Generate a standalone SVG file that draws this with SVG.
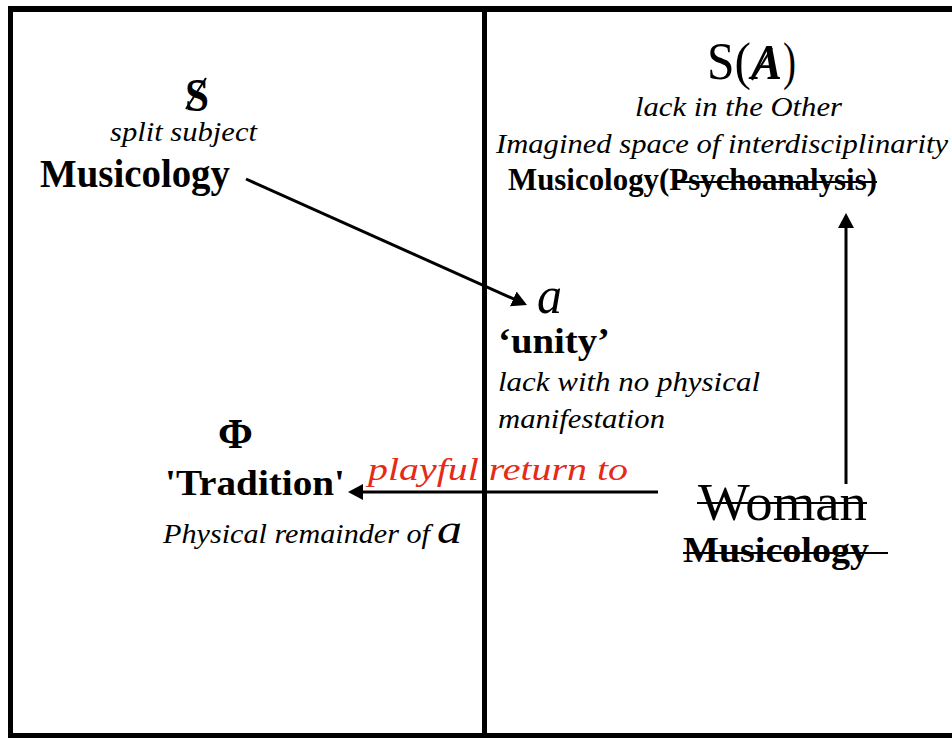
<svg xmlns="http://www.w3.org/2000/svg" width="952" height="738" viewBox="0 0 952 738">
<style>
.t{font-family:"Liberation Serif","Times New Roman",serif;fill:#000}
.b{font-weight:bold}
.i{font-style:italic}
.red{fill:#e52a17}
.frame{stroke:#000;fill:none}
.con{stroke:#000;stroke-width:3;fill:none}
.strike{stroke:#000;stroke-width:2.2}
</style>
<defs>
<marker id="ah" markerUnits="userSpaceOnUse" markerWidth="16" markerHeight="18" viewBox="0 0 16 18" refX="7" refY="9" orient="auto">
<path d="M0,1 L15,9 L0,17 z" fill="#000"/>
</marker>
</defs>
<rect width="952" height="738" fill="#fff"/>
<g id="frame">
<line class="frame" x1="10.5" y1="6" x2="10.5" y2="738" stroke-width="5"/>
<line class="frame" x1="8" y1="9" x2="952" y2="9" stroke-width="6"/>
<line class="frame" x1="8" y1="735.5" x2="952" y2="735.5" stroke-width="5"/>
<line class="frame" x1="484.5" y1="9" x2="484.5" y2="736" stroke-width="5"/>
</g>
<g id="connectors">
<line class="con" x1="246" y1="179" x2="519.7" y2="301.7" marker-end="url(#ah)"/>
<line class="con" x1="658" y1="492" x2="356" y2="492" marker-end="url(#ah)"/>
<line class="con" x1="846" y1="484" x2="846" y2="221" stroke-width="2.6" marker-end="url(#ah)"/>
</g>
<g id="node-split-subject">
<text class="t b" x="185" y="111" font-size="46" textLength="24" lengthAdjust="spacingAndGlyphs">S</text>
<line x1="186" y1="109" x2="206" y2="78" stroke="#000" stroke-width="2"/>
<text class="t i" x="110" y="141" font-size="27" textLength="147" lengthAdjust="spacingAndGlyphs">split subject</text>
<text class="t b" x="40" y="187" font-size="39" textLength="190" lengthAdjust="spacingAndGlyphs">Musicology</text>
</g>
<g id="node-lack-other">
<text class="t" x="707" y="79" font-size="53" textLength="44" lengthAdjust="spacingAndGlyphs">S(</text>
<text class="t i b" x="751" y="79" font-size="50" textLength="31" lengthAdjust="spacingAndGlyphs">A</text>
<text class="t" x="783" y="79" font-size="53" textLength="13" lengthAdjust="spacingAndGlyphs">)</text>
<line x1="752" y1="80" x2="772" y2="48" stroke="#000" stroke-width="2"/>
<text class="t i" x="635" y="116" font-size="28" textLength="207" lengthAdjust="spacingAndGlyphs">lack in the Other</text>
<text class="t i" x="496" y="153" font-size="28" textLength="452" lengthAdjust="spacingAndGlyphs">Imagined space of interdisciplinarity</text>
<text class="t b" x="508" y="190" font-size="31" textLength="369" lengthAdjust="spacingAndGlyphs">Musicology(Psychoanalysis)</text>
<line class="strike" x1="677" y1="182" x2="877" y2="182"/>
</g>
<g id="node-a">
<text class="t i" x="537" y="313" font-size="52" textLength="25" lengthAdjust="spacingAndGlyphs">a</text>
<text class="t b" x="498" y="353" font-size="36" textLength="112" lengthAdjust="spacingAndGlyphs">‘unity’</text>
<text class="t i" x="498" y="391" font-size="28" textLength="262" lengthAdjust="spacingAndGlyphs">lack with no physical</text>
<text class="t i" x="498" y="428" font-size="28" textLength="167" lengthAdjust="spacingAndGlyphs">manifestation</text>
</g>
<g id="node-phi">
<text class="t b" x="235.5" y="448" font-size="42" text-anchor="middle">Φ</text>
<text class="t b" x="165" y="495" font-size="36" textLength="180" lengthAdjust="spacingAndGlyphs">'Tradition'</text>
<text class="t i" x="163" y="543" font-size="27" textLength="267" lengthAdjust="spacingAndGlyphs">Physical remainder of</text>
<text class="t i" x="437" y="543" font-size="40" textLength="25" lengthAdjust="spacingAndGlyphs">a</text>
</g>
<g id="label-playful">
<text class="t i red" x="368" y="480" font-size="32" textLength="260" lengthAdjust="spacingAndGlyphs">playful return to</text>
</g>
<g id="node-woman">
<text class="t" x="698" y="520" font-size="52" textLength="169" lengthAdjust="spacingAndGlyphs">Woman</text>
<line class="strike" x1="697" y1="503" x2="867" y2="503" stroke-width="2.5"/>
<text class="t b" x="683" y="562" font-size="36" textLength="186" lengthAdjust="spacingAndGlyphs">Musicology</text>
<line class="strike" x1="683" y1="553" x2="888" y2="553" stroke-width="2.5"/>
</g>
</svg>
